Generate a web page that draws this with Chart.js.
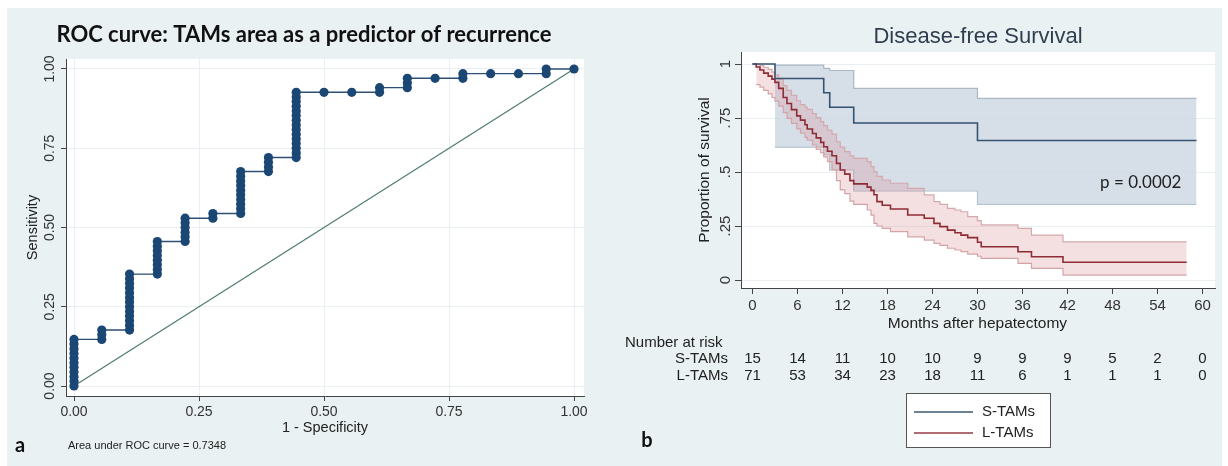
<!DOCTYPE html>
<html>
<head>
<meta charset="utf-8">
<script src="https://cdn.jsdelivr.net/npm/chart.js@4.4.0/dist/chart.umd.min.js"></script>
<style>
  html, body { margin: 0; padding: 0; background: #ffffff; }
  #wrap { position: relative; width: 1228px; height: 466px; overflow: hidden; background: #ffffff; }
  #bg { position: absolute; left: 7px; top: 8px; width: 1215px; height: 458px; background: #eaf1f3; }
  #ca { position: absolute; left: 7px; top: 8px; }
  #cb { position: absolute; left: 610px; top: 8px; }
</style>
</head>
<body>
<div id="wrap">
  <div id="bg"></div>
  <canvas id="ca" width="600" height="458"></canvas>
  <canvas id="cb" width="612" height="458"></canvas>
</div>
<script>
// ---------------- Panel a: ROC data ----------------
const rocTitle = "ROC curve: TAMs area as a predictor of recurrence";
const rocNeg = 18;            // non-recurrent cases
const rocPos = 68;            // recurrent cases
// false positives (out of 18) for each column of the ROC curve
const rocFP = [0,1,2,3,4,5,6,7,8,9,10,11,12,13,14,15,16,17,18];
// true positives (out of 68) reached at the top of each column
const rocTP = [10,12,24,31,36,37,46,49,63,63,63,64,66,66,67,67,67,68,68];
const rocTicks = [0, 0.25, 0.5, 0.75, 1];
const rocTickLabels = ["0.00", "0.25", "0.50", "0.75", "1.00"];
const rocAuc = "Area under ROC curve = 0.7348";

// ---------------- Panel b: Kaplan-Meier data ----------------
const kmTitle = "Disease-free Survival";
// S-TAMs
const sTime = [0, 3.0, 9.5, 10.3, 13.5, 30.0, 59.2];
const sSurv = [1, 0.933, 0.867, 0.800, 0.727, 0.646, 0.646];
const sUpper = [null, 0.995, 0.98, 0.97, 0.887, 0.841, 0.841];
const sLower = [null, 0.615, 0.58, 0.51, 0.412, 0.35, 0.35];
// L-TAMs
const lTime = [0, 0.5, 1.0, 1.5, 2.1, 2.6, 3.0, 3.5, 4.1, 4.6, 5.2, 5.9, 6.4, 7.0, 7.3, 8.0, 8.5, 9.1, 9.5, 10.0,
               10.6, 11.2, 11.7, 12.3, 13.0, 13.5, 15.3, 15.8, 16.2, 16.6, 17.3, 18.4, 20.7, 22.9, 24.2, 25.0, 26.0, 27.0, 27.8, 28.7,
               30.0, 30.5, 35.4, 37.2, 41.4, 57.9];
const lSurv = [1, 0.986, 0.972, 0.958, 0.944, 0.930, 0.915, 0.887, 0.845, 0.817, 0.789, 0.760, 0.740, 0.719, 0.699, 0.678, 0.658, 0.637, 0.617, 0.596,
               0.575, 0.540, 0.509, 0.490, 0.460, 0.445, 0.430, 0.415, 0.395, 0.363, 0.346, 0.329, 0.301, 0.286, 0.262, 0.247, 0.231, 0.219, 0.208, 0.196,
               0.175, 0.154, 0.131, 0.108, 0.082, 0.082];
const lUpper = [null, 0.998, 0.993, 0.985, 0.975, 0.962, 0.950, 0.930, 0.900, 0.878, 0.855, 0.830, 0.812, 0.800, 0.790, 0.770, 0.752, 0.733, 0.715, 0.694,
               0.675, 0.640, 0.615, 0.594, 0.575, 0.563, 0.548, 0.525, 0.502, 0.480, 0.463, 0.448, 0.424, 0.394, 0.363, 0.350, 0.332, 0.324, 0.316, 0.293,
               0.275, 0.255, 0.239, 0.208, 0.177, 0.177];
const lLower = [null, 0.905, 0.893, 0.878, 0.862, 0.845, 0.828, 0.805, 0.775, 0.748, 0.725, 0.700, 0.680, 0.660, 0.648, 0.625, 0.605, 0.590, 0.570, 0.548,
               0.510, 0.460, 0.417, 0.400, 0.365, 0.350, 0.324, 0.300, 0.262, 0.250, 0.239, 0.224, 0.200, 0.185, 0.170, 0.160, 0.147, 0.139, 0.131, 0.120,
               0.110, 0.100, 0.077, 0.054, 0.023, 0.023];
const kmXTicks = [0, 6, 12, 18, 24, 30, 36, 42, 48, 54, 60];
const kmYTicks = [0, 0.25, 0.5, 0.75, 1];
const kmYTickLabels = ["0", ".25", ".5", ".75", "1"];
const riskTimes = [0, 6, 12, 18, 24, 30, 36, 42, 48, 54, 60];
const riskS = [15, 14, 11, 10, 10, 9, 9, 9, 5, 2, 0];
const riskL = [71, 53, 34, 23, 18, 11, 6, 1, 1, 1, 0];
const groupNames = ["S-TAMs", "L-TAMs"];
const pText = "p = 0.0002";

// ---------------- common ----------------
const SANS = "'Liberation Sans', Arial, sans-serif";
const CAL = "Lato, 'Open Sans', sans-serif";
Chart.defaults.font.family = SANS;
Chart.defaults.color = "#222";

const plotBg = {
  id: 'plotBg',
  beforeDraw(chart) {
    const a = chart.chartArea, c = chart.ctx;
    c.save(); c.fillStyle = '#ffffff'; c.fillRect(a.left, a.top, a.right - a.left, a.bottom - a.top); c.restore();
  }
};

function txt(c, s, x, y, font, color, align, rot) {
  c.save();
  c.font = font; c.fillStyle = color || '#222';
  c.textAlign = align || 'center'; c.textBaseline = 'middle';
  c.translate(x, y);
  if (rot) c.rotate(rot);
  c.fillText(s, 0, 0);
  c.restore();
}

// ---------------- build ROC points ----------------
const rocPts = [];
let prevTP = 0;
rocFP.forEach((fp, i) => {
  for (let k = prevTP; k <= rocTP[i]; k++) rocPts.push({ x: fp / rocNeg, y: k / rocPos });
  prevTP = rocTP[i];
});

const rocText = {
  id: 'rocText',
  afterDraw(chart) {
    const c = chart.ctx, ys = chart.scales.y, a = chart.chartArea;
    txt(c, rocTitle, 297, 27, "bold 22px " + CAL, '#111');
    rocTicks.forEach((v, i) => txt(c, rocTickLabels[i], 43, ys.getPixelForValue(v), "14px " + SANS, '#333', 'center', -Math.PI / 2));
    txt(c, "Sensitivity", 26, (a.top + a.bottom) / 2, "14.5px " + SANS, '#222', 'center', -Math.PI / 2);
    txt(c, "1 - Specificity", (a.left + a.right) / 2, 420, "14.5px " + SANS, '#222');
    txt(c, "a", 13, 438, "bold 20px " + CAL, '#111', 'center');
    txt(c, rocAuc, 61, 438, "11px " + SANS, '#222', 'left');
  }
};

new Chart(document.getElementById('ca'), {
  type: 'scatter',
  data: {
    datasets: [
      {
        data: rocPts, showLine: true, borderColor: '#2c4f74', borderWidth: 1.4,
        pointRadius: 4.6, pointBackgroundColor: '#1b4775', pointBorderColor: '#1b4775', pointBorderWidth: 0
      },
      {
        data: [{ x: 0, y: 0 }, { x: 1, y: 1 }], showLine: true, borderColor: '#4f7d6a', borderWidth: 1.2, pointRadius: 0
      }
    ]
  },
  options: {
    responsive: false, animation: false, events: [],
    layout: { padding: { left: 0, right: 23, top: 51, bottom: 0 } },
    plugins: { legend: { display: false }, tooltip: { enabled: false } },
    scales: {
      x: {
        type: 'linear', min: -0.016, max: 1.02,
        afterBuildTicks: s => { s.ticks = rocTicks.map(v => ({ value: v })); },
        afterFit: s => { s.height = 70; },
        ticks: { callback: (v) => rocTickLabels[rocTicks.indexOf(v)], font: { size: 14 }, color: '#333', padding: 3, maxRotation: 0 },
        grid: { color: '#e9eff2', tickColor: '#444', tickLength: 5, lineWidth: 1 },
        border: { color: '#444', width: 1 }
      },
      y: {
        type: 'linear', min: -0.0315, max: 1.0315,
        afterBuildTicks: s => { s.ticks = rocTicks.map(v => ({ value: v })); },
        afterFit: s => { s.width = 59; },
        ticks: { display: false },
        grid: { color: '#e9eff2', tickColor: '#444', tickLength: 5, lineWidth: 1 },
        border: { color: '#444', width: 1 }
      }
    }
  },
  plugins: [plotBg, rocText]
});

// ---------------- KM chart ----------------
const toPts = (t, v) => t.map((x, i) => ({ x: x, y: v[i] }));

const kmText = {
  id: 'kmText',
  afterDraw(chart) {
    const c = chart.ctx, ys = chart.scales.y, xs = chart.scales.x, a = chart.chartArea;
    txt(c, kmTitle, (a.left + a.right) / 2, 29, "22px " + SANS, '#2f3e4e');
    kmYTicks.forEach((v, i) => txt(c, kmYTickLabels[i], 116, ys.getPixelForValue(v), "15px " + SANS, '#333', 'center', -Math.PI / 2));
    txt(c, "Proportion of survival", 95, (a.top + a.bottom) / 2, "15.5px " + SANS, '#222', 'center', -Math.PI / 2);
    txt(c, "Months after hepatectomy", xs.getPixelForValue(30), 316, "15.5px " + SANS, '#222');
    txt(c, pText, xs.getPixelForValue(57.2), ys.getPixelForValue(0.45), "17px " + CAL, '#222', 'right');
    // number at risk table
    txt(c, "Number at risk", 15, 335, "15px " + SANS, '#222', 'left');
    txt(c, groupNames[0], 118, 351, "15px " + SANS, '#222', 'right');
    txt(c, groupNames[1], 118, 368, "15px " + SANS, '#222', 'right');
    riskTimes.forEach((t, i) => {
      const px = xs.getPixelForValue(t);
      txt(c, String(riskS[i]), px, 351, "15px " + SANS, '#222');
      txt(c, String(riskL[i]), px, 368, "15px " + SANS, '#222');
    });
    // legend
    c.save();
    c.fillStyle = '#ffffff'; c.fillRect(296.5, 385.5, 144, 54);
    c.strokeStyle = '#555'; c.lineWidth = 1; c.strokeRect(296.5, 385.5, 144, 54);
    c.lineWidth = 1.3;
    c.strokeStyle = '#3b5872'; c.beginPath(); c.moveTo(304, 404); c.lineTo(363, 404); c.stroke();
    c.strokeStyle = '#9a3a43'; c.beginPath(); c.moveTo(304, 425); c.lineTo(363, 425); c.stroke();
    c.restore();
    txt(c, groupNames[0], 372, 404, "15px " + SANS, '#222', 'left');
    txt(c, groupNames[1], 372, 425, "15px " + SANS, '#222', 'left');
    txt(c, "b", 37, 433, "bold 20px " + CAL, '#111');
  }
};

new Chart(document.getElementById('cb'), {
  type: 'scatter',
  data: {
    datasets: [
      { label: groupNames[0], data: toPts(sTime, sSurv), showLine: true, stepped: true, borderColor: '#34536f', borderWidth: 1.6, pointRadius: 0, fill: false },
      { label: groupNames[1], data: toPts(lTime, lSurv), showLine: true, stepped: true, borderColor: '#8e2c36', borderWidth: 1.6, pointRadius: 0, fill: false },
      { data: toPts(lTime, lUpper), showLine: true, stepped: true, borderColor: '#d4a9ad', borderWidth: 1.2, pointRadius: 0, fill: '+1', backgroundColor: 'rgba(215,130,135,0.25)' },
      { data: toPts(lTime, lLower), showLine: true, stepped: true, borderColor: '#d4a9ad', borderWidth: 1.2, pointRadius: 0, fill: false },
      { data: toPts(sTime, sUpper), showLine: true, stepped: true, borderColor: '#aab8c6', borderWidth: 1.2, pointRadius: 0, fill: '+1', backgroundColor: 'rgba(200,211,224,0.75)' },
      { data: toPts(sTime, sLower), showLine: true, stepped: true, borderColor: '#aab8c6', borderWidth: 1.2, pointRadius: 0, fill: false }
    ]
  },
  options: {
    responsive: false, animation: false, events: [],
    layout: { padding: { left: 0, right: 7, top: 44, bottom: 0 } },
    plugins: { legend: { display: false }, tooltip: { enabled: false }, filler: { propagate: false } },
    scales: {
      x: {
        type: 'linear', min: -1.53, max: 61.67,
        afterBuildTicks: s => { s.ticks = kmXTicks.map(v => ({ value: v })); },
        afterFit: s => { s.height = 178; },
        ticks: { font: { size: 15 }, color: '#333', padding: 3, maxRotation: 0 },
        grid: { display: true, drawOnChartArea: false, tickColor: '#444', tickLength: 6 },
        border: { color: '#444', width: 1 }
      },
      y: {
        type: 'linear', min: -0.037, max: 1.0556,
        afterBuildTicks: s => { s.ticks = kmYTicks.map(v => ({ value: v })); },
        afterFit: s => { s.width = 131; },
        ticks: { display: false },
        grid: { color: '#e9eff2', tickColor: '#444', tickLength: 6, lineWidth: 1 },
        border: { color: '#444', width: 1 }
      }
    }
  },
  plugins: [plotBg, kmText]
});
</script>
</body>
</html>
